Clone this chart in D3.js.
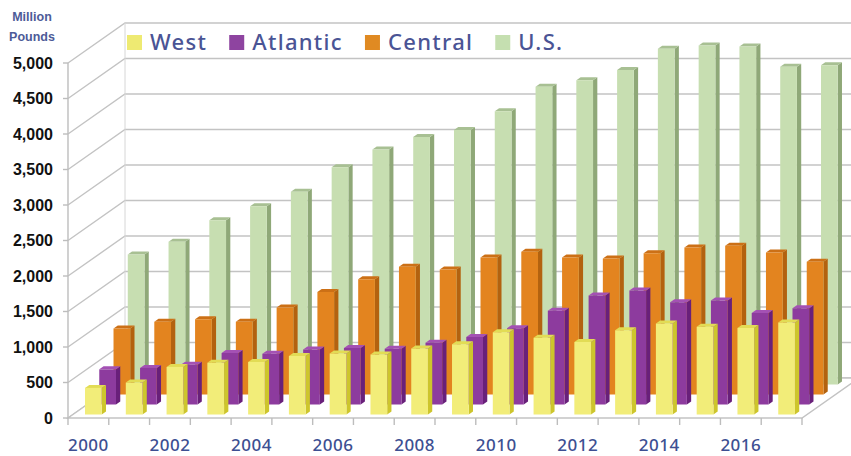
<!DOCTYPE html>
<html>
<head>
<meta charset="utf-8">
<script src="https://cdn.jsdelivr.net/npm/d3@7"></script>
<style>
  body { margin: 0; background: #fff; }
  svg { display: block; }
</style>
</head>
<body>
<div id="chart"></div>
<script>
// values, million pounds
var years = ['2000','2001','2002','2003','2004','2005','2006','2007','2008','2009','2010','2011','2012','2013','2014','2015','2016','2017'];
var west     = [375, 450, 670, 730, 740, 825, 860, 845, 930, 990, 1160, 1080, 1020, 1185, 1280, 1235, 1220, 1295];
var atlantic = [495, 515, 560, 725, 715, 775, 795, 785, 870, 950, 1075, 1320, 1535, 1605, 1440, 1465, 1290, 1355];
var central  = [930, 1025, 1060, 1025, 1225, 1445, 1625, 1800, 1760, 1930, 2010, 1930, 1915, 1990, 2070, 2095, 2000, 1870];
var us       = [1830, 2010, 2315, 2510, 2715, 3060, 3310, 3485, 3585, 3850, 4195, 4285, 4430, 4730, 4775, 4760, 4475, 4495];
var seriesNames = ['West', 'Atlantic', 'Central', 'U.S.'];
var yTicks = [0, 500, 1000, 1500, 2000, 2500, 3000, 3500, 4000, 4500, 5000];
var xLabels = ['2000','2002','2004','2006','2008','2010','2012','2014','2016'];

var seriesValues = [west, atlantic, central, us];
// face colours: front, side, top
var colors = [
  {front: '#f2ed79', side: '#cdc52c', top: '#e2dc55', key: '#eeea72'},
  {front: '#8d3b9e', side: '#69207a', top: '#a451b4', key: '#8e44a0'},
  {front: '#e3841f', side: '#b3620f', top: '#cc7016', key: '#e08a22'},
  {front: '#c7deb1', side: '#8fa878', top: '#a8c093', key: '#c5dfb0'}
];

var W = 851, H = 456;
var depthX = 57, depthY = -40;   // oblique depth vector

var svg = d3.select('#chart').append('svg')
  .attr('width', W).attr('height', H);

var x = d3.scaleBand().domain(years).range([68, 802]);
var y = d3.scaleLinear().domain([0, 5000]).range([418, 63]);
var z = d3.scaleLinear().domain([0, seriesNames.length]).range([0, 1]);

function P(px, v, d) { return [px + depthX * d, y(v) + depthY * d]; }
function poly(pts) { return 'M' + pts.map(p => p.join(',')).join('L') + 'Z'; }

var grid = '#c3c3c3';
var walls = svg.append('g');

// back wall
walls.append('path')
  .attr('d', poly([P(68, 0, 1), P(802, 0, 1), P(802, 5000, 1), P(68, 5000, 1)]))
  .attr('fill', '#fff');

// grid lines: back wall + left wall
walls.selectAll('.gb').data(yTicks).enter().append('path')
  .attr('d', d => 'M' + P(68, d, 0).join(',') + 'L' + P(68, d, 1).join(',') + 'L' + P(802, d, 1).join(','))
  .attr('fill', 'none').attr('stroke', grid).attr('stroke-width', 1.4);

walls.append('path')
  .attr('d', 'M' + P(68, 0, 1).join(',') + 'L' + P(68, 5000, 1).join(','))
  .attr('stroke', '#d6d6d6').attr('stroke-width', 1);

// floor
walls.append('path')
  .attr('d', poly([P(68, 0, 0), P(802, 0, 0), P(802, 0, 1), P(68, 0, 1)]))
  .attr('fill', '#fff').attr('stroke', grid).attr('stroke-width', 1.4);

// front axis line
walls.append('path')
  .attr('d', 'M68,' + y(5000) + 'L68,' + y(0))
  .attr('stroke', '#bdbdbd').attr('stroke-width', 1.4);
walls.selectAll('.yt').data(yTicks).enter().append('line')
  .attr('x1', 63).attr('x2', 68).attr('y1', d => y(d)).attr('y2', d => y(d))
  .attr('stroke', '#bdbdbd').attr('stroke-width', 1.4);

// x tick marks at band edges
var edges = years.map(d => x(d)).concat([x.range()[1]]);
walls.selectAll('.xt').data(edges).enter().append('line')
  .attr('x1', d => d).attr('x2', d => d).attr('y1', y(0)).attr('y2', y(0) + 7)
  .attr('stroke', '#bdbdbd').attr('stroke-width', 1.4);

// bars, back row first
var bw = x.bandwidth();
var barsG = svg.append('g');
for (var s = seriesNames.length - 1; s >= 0; s--) {
  var d0 = z(s + 0.35), d1 = z(s + 0.65);
  var g = barsG.append('g');
  seriesValues[s].forEach(function(v, k) {
    var x0 = x(years[k]) + bw * 0.295, x1 = x0 + bw * 0.41;
    g.append('path')
      .attr('d', poly([P(x1, 0, d0), P(x1, 0, d1), P(x1, v, d1), P(x1, v, d0)]))
      .attr('fill', colors[s].side);
    g.append('path')
      .attr('d', poly([P(x0, v, d0), P(x1, v, d0), P(x1, v, d1), P(x0, v, d1)]))
      .attr('fill', colors[s].top);
    g.append('path')
      .attr('d', poly([P(x0, 0, d0), P(x1, 0, d0), P(x1, v, d0), P(x0, v, d0)]))
      .attr('fill', colors[s].front);
  });
}

// y labels
svg.selectAll('.yl').data(yTicks).enter().append('text')
  .attr('x', 53).attr('y', d => y(d)).attr('dy', '0.35em')
  .attr('text-anchor', 'end')
  .style('font-family', 'Liberation Sans, Arial, sans-serif')
  .style('font-weight', 'bold').style('font-size', '16px').style('fill', '#111')
  .text(d => d3.format(',')(d));

// axis title
svg.append('text').attr('x', 32).attr('y', 21).attr('text-anchor', 'middle')
  .style('font-family', 'Liberation Sans, Arial, sans-serif').style('font-weight', 'bold')
  .style('font-size', '12.5px').style('fill', '#4d5b98').text('Million');
svg.append('text').attr('x', 32).attr('y', 41).attr('text-anchor', 'middle')
  .style('font-family', 'Liberation Sans, Arial, sans-serif').style('font-weight', 'bold')
  .style('font-size', '12.5px').style('fill', '#4d5b98').text('Pounds');

// x labels
svg.selectAll('.xl').data(xLabels).enter().append('text')
  .attr('x', d => x(d) + bw / 2).attr('y', 451)
  .attr('text-anchor', 'middle')
  .style('font-family', 'Noto Sans, sans-serif').style('font-size', '17px')
  .style('font-weight', '500').style('letter-spacing', '0.5px')
  .style('fill', '#3d4f92')
  .text(d => d);

// legend
var lg = svg.append('g');
var lx = 127;
seriesNames.forEach(function(name, i) {
  lg.append('rect').attr('x', lx).attr('y', 35).attr('width', 15).attr('height', 15)
    .attr('fill', colors[i].key);
  var t = lg.append('text').attr('x', lx + 23).attr('y', 50)
    .style('font-family', 'Noto Sans, sans-serif').style('font-size', '22px')
    .style('font-weight', '500')
    .style('fill', '#4a5495').style('letter-spacing', '1.3px')
    .text(name);
  lx += 23 + t.node().getComputedTextLength() + 22;
});
</script>
</body>
</html>
